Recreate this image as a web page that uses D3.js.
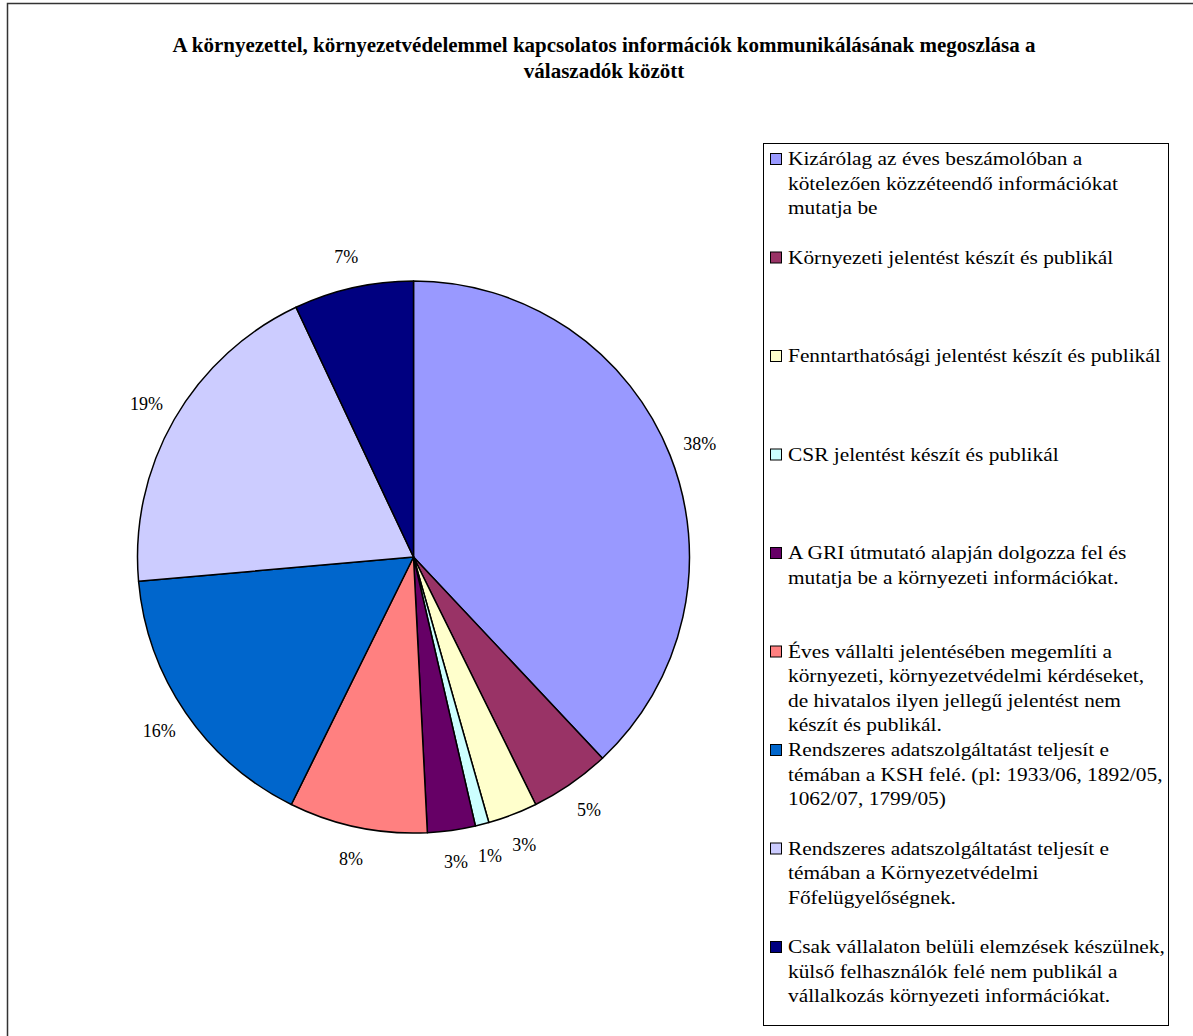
<!DOCTYPE html>
<html>
<head>
<meta charset="utf-8">
<script src="https://cdn.jsdelivr.net/npm/d3@7"></script>
<style>
  html, body { margin: 0; padding: 0; background: #fff; }
  text { font-family: 'Liberation Serif', 'Times New Roman', Times, serif; }
</style>
</head>
<body>
<svg id="chart" width="1193" height="1036"></svg>
<script>
// slice labels (legend text, already wrapped as in the original)
const categories = [
    ['Kizárólag az éves beszámolóban a', 'kötelezően közzéteendő információkat', 'mutatja be'],
    ['Környezeti jelentést készít és publikál'],
    ['Fenntarthatósági jelentést készít és publikál'],
    ['CSR jelentést készít és publikál'],
    ['A GRI útmutató alapján dolgozza fel és', 'mutatja be a környezeti információkat.'],
    ['Éves vállalti jelentésében megemlíti a', 'környezeti, környezetvédelmi kérdéseket,', 'de hivatalos ilyen jellegű jelentést nem', 'készít és publikál.'],
    ['Rendszeres adatszolgáltatást teljesít e', 'témában a KSH felé. (pl: 1933/06, 1892/05,', '1062/07, 1799/05)'],
    ['Rendszeres adatszolgáltatást teljesít e', 'témában a Környezetvédelmi', 'Főfelügyelőségnek.'],
    ['Csak vállalaton belüli elemzések készülnek,', 'külső felhasználók felé nem publikál a', 'vállalkozás környezeti információkat.']
];

// share of respondents (%)
const values = [38.0, 4.7, 2.9, 0.8, 2.8, 8.1, 16.3, 19.4, 7.0];

const colors = ['#9999FF', '#993366', '#FFFFCC', '#CCFFFF', '#660066', '#FF8080', '#0066CC', '#CCCCFF', '#000080'];

const titleLines = [
    'A környezettel, környezetvédelemmel kapcsolatos információk kommunikálásának megoszlása a',
    'válaszadók között'
];

const svg = d3.select('#chart');

// outer frame
svg.append('rect')
    .attr('x', 7.5).attr('y', 3.5)
    .attr('width', 1250).attr('height', 1100)
    .attr('fill', 'none')
    .attr('stroke', '#333')
    .attr('stroke-width', 1.5);

// title (the original renders its fonts a bit wide)
svg.append('g')
    .selectAll('text')
    .data(titleLines)
    .join('text')
    .attr('transform', (d, i) => `translate(604,${52 + i * 26}) scale(1.05,1)`)
    .attr('text-anchor', 'middle')
    .attr('font-weight', 'bold')
    .attr('font-size', 20)
    .text(d => d);

// pie
const cx = 413.5, cy = 557, radius = 276;
const total = d3.sum(values);

const pie = d3.pie().sort(null).value(d => d);
const arcs = pie(values);
const arc = d3.arc().innerRadius(0).outerRadius(radius);
const labelArc = d3.arc().innerRadius(radius + 32).outerRadius(radius + 32);

const g = svg.append('g').attr('transform', `translate(${cx},${cy})`);

g.selectAll('path')
    .data(arcs)
    .join('path')
    .attr('d', arc)
    .attr('fill', (d, i) => colors[i])
    .attr('stroke', '#000')
    .attr('stroke-width', 1.5)
    .attr('stroke-linejoin', 'round');

g.selectAll('text.pct')
    .data(arcs)
    .join('text')
    .attr('class', 'pct')
    .attr('transform', d => `translate(${labelArc.centroid(d)})`)
    .attr('text-anchor', 'middle')
    .attr('dy', '0.35em')
    .attr('font-size', 18)
    .attr('fill', '#000')
    .text(d => Math.round(d.value / total * 100) + '%');

// legend
const legend = svg.append('g');
legend.append('rect')
    .attr('x', 763.5).attr('y', 143.5)
    .attr('width', 405).attr('height', 882)
    .attr('fill', '#fff')
    .attr('stroke', '#000')
    .attr('stroke-width', 1);

const item = legend.selectAll('g.item')
    .data(categories)
    .join('g')
    .attr('class', 'item')
    .attr('transform', (d, i) => `translate(0,${165 + i * 98.5})`);

item.append('rect')
    .attr('x', 770.5).attr('y', -11.5)
    .attr('width', 11).attr('height', 11)
    .attr('fill', (d, i) => colors[i])
    .attr('stroke', '#000')
    .attr('stroke-width', 1);

item.selectAll('text')
    .data(d => d)
    .join('text')
    .attr('transform', (d, i) => `translate(788,${i * 24.5}) scale(1.125,1)`)
    .attr('font-size', 19)
    .text(d => d);
</script>
</body>
</html>
